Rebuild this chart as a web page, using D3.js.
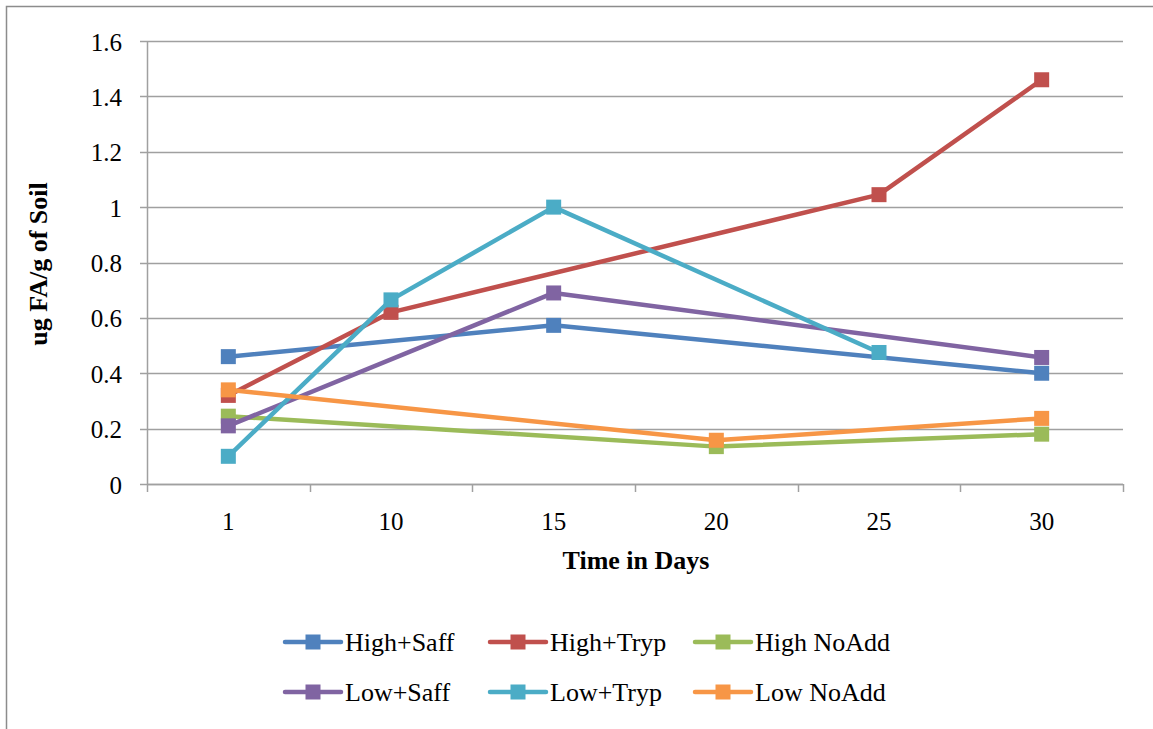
<!DOCTYPE html>
<html>
<head>
<meta charset="utf-8">
<script src="https://cdn.jsdelivr.net/npm/d3@7"></script>
<style>
  html, body { margin: 0; padding: 0; background: #fff; }
  svg text { font-family: "Liberation Serif", "Times New Roman", serif; fill: #000; }
</style>
</head>
<body>
<div id="chart"></div>
<script>
// categories (days) and series values, null = no point for that day
var days = ["1", "10", "15", "20", "25", "30"];
var seriesNames = ["High+Saff", "High+Tryp", "High NoAdd", "Low+Saff", "Low+Tryp", "Low NoAdd"];
var highSaff  = [0.46, null, 0.573, null, null, 0.40];
var highTryp  = [0.32, 0.62, null, null, 1.045, 1.46];
var highNoAdd = [0.245, null, null, 0.135, null, 0.18];
var lowSaff   = [0.21, null, 0.69, null, null, 0.457];
var lowTryp   = [0.10, 0.665, 1.0, null, 0.475, null];
var lowNoAdd  = [0.34, null, null, 0.158, null, 0.237];
var yTicks = [0, 0.2, 0.4, 0.6, 0.8, 1, 1.2, 1.4, 1.6];
var colors = ["#4f81bd", "#c0504d", "#9bbb59", "#8064a2", "#4bacc6", "#f79646"];

var allValues = [highSaff, highTryp, highNoAdd, lowSaff, lowTryp, lowNoAdd];

var width = 1153, height = 729;
var margin = {top: 41, right: 30, bottom: 245, left: 147};
var plotW = 1123 - margin.left, plotH = 484 - margin.top;
var gridColor = "#a0a0a0";

var svg = d3.select("#chart").append("svg")
    .attr("width", width)
    .attr("height", height);

// outer chart frame (only top and left edges visible)
svg.append("path")
    .attr("d", "M6.5,729V6.5H1153")
    .attr("fill", "none")
    .attr("stroke", "#8c8c8c")
    .attr("stroke-width", 1.5);

var g = svg.append("g")
    .attr("transform", "translate(" + margin.left + "," + margin.top + ")");

var x = d3.scaleBand().domain(days).range([0, plotW]).padding(0);
var y = d3.scaleLinear().domain([0, 1.6]).range([plotH, 0]);

// gridlines
g.append("g")
    .attr("class", "grid")
  .selectAll("line")
    .data(yTicks)
  .enter().append("line")
    .attr("x1", -7)
    .attr("x2", plotW)
    .attr("y1", function(d) { return Math.round(y(d)) + 0.5; })
    .attr("y2", function(d) { return Math.round(y(d)) + 0.5; })
    .attr("stroke", gridColor)
    .attr("stroke-width", 1.5);

// y axis
var yAxis = d3.axisLeft(y).tickValues(yTicks).tickSize(0).tickPadding(25)
    .tickFormat(function(d) { return d3.format("")(d); });
var yg = g.append("g").call(yAxis);
yg.select(".domain").remove();
yg.selectAll("text")
    .attr("font-size", 25)
    .attr("dy", "0.36em")
    .style("font-family", "Liberation Serif, serif");

g.append("line")
    .attr("x1", 0.5).attr("x2", 0.5)
    .attr("y1", 0).attr("y2", plotH)
    .attr("stroke", gridColor)
    .attr("stroke-width", 1.5);

// x axis
var xAxis = d3.axisBottom(x).tickSize(0).tickPadding(28);
var xg = g.append("g")
    .attr("transform", "translate(0," + plotH + ")")
    .call(xAxis);
xg.select(".domain").remove();
xg.selectAll("text")
    .attr("font-size", 25)
    .style("font-family", "Liberation Serif, serif");

g.append("line")
    .attr("x1", 0).attr("x2", plotW)
    .attr("y1", plotH + 0.5).attr("y2", plotH + 0.5)
    .attr("stroke", gridColor)
    .attr("stroke-width", 1.5);

// x tick marks at band boundaries
var bounds = days.map(function(d) { return x(d); }).concat([plotW]);
g.selectAll(".xtick")
    .data(bounds)
  .enter().append("line")
    .attr("class", "xtick")
    .attr("x1", function(d) { return Math.round(d) + 0.5; })
    .attr("x2", function(d) { return Math.round(d) + 0.5; })
    .attr("y1", plotH)
    .attr("y2", plotH + 8)
    .attr("stroke", gridColor)
    .attr("stroke-width", 1.5);

// axis titles
svg.append("text")
    .attr("x", 636)
    .attr("y", 569)
    .attr("text-anchor", "middle")
    .attr("font-size", 26)
    .attr("font-weight", "bold")
    .text("Time in Days");

svg.append("text")
    .attr("transform", "translate(47,264) rotate(-90)")
    .attr("text-anchor", "middle")
    .attr("font-size", 26)
    .attr("font-weight", "bold")
    .text("ug FA/g of Soil");

// series
var cx = function(i) { return x(days[i]) + x.bandwidth() / 2; };
var line = d3.line()
    .x(function(d) { return cx(d.i); })
    .y(function(d) { return y(d.v); });

var ms = 15;

allValues.forEach(function(vals, s) {
  var pts = vals.map(function(v, i) { return {i: i, v: v}; })
      .filter(function(d) { return d.v !== null; });
  var sg = g.append("g").attr("class", "series");
  sg.append("path")
      .datum(pts)
      .attr("d", line)
      .attr("fill", "none")
      .attr("stroke", colors[s])
      .attr("stroke-width", 4.5)
      .attr("stroke-linejoin", "round");
  sg.selectAll("rect")
      .data(pts)
    .enter().append("rect")
      .attr("x", function(d) { return cx(d.i) - ms / 2; })
      .attr("y", function(d) { return y(d.v) - ms / 2; })
      .attr("width", ms)
      .attr("height", ms)
      .attr("fill", colors[s]);
});

// legend
var legX = [285, 490, 695], legY = [642, 692];
seriesNames.forEach(function(name, s) {
  var lx = legX[s % 3], ly = legY[Math.floor(s / 3)];
  var lg = svg.append("g").attr("transform", "translate(" + lx + "," + ly + ")");
  lg.append("line")
      .attr("x1", 0).attr("x2", 56)
      .attr("y1", 0).attr("y2", 0)
      .attr("stroke", colors[s])
      .attr("stroke-width", 4.5)
      .attr("stroke-linecap", "round");
  lg.append("rect")
      .attr("x", 28 - ms / 2).attr("y", -ms / 2)
      .attr("width", ms).attr("height", ms)
      .attr("fill", colors[s]);
  lg.append("text")
      .attr("x", 60)
      .attr("y", 9)
      .attr("font-size", 26)
      .text(name);
});
</script>
</body>
</html>
